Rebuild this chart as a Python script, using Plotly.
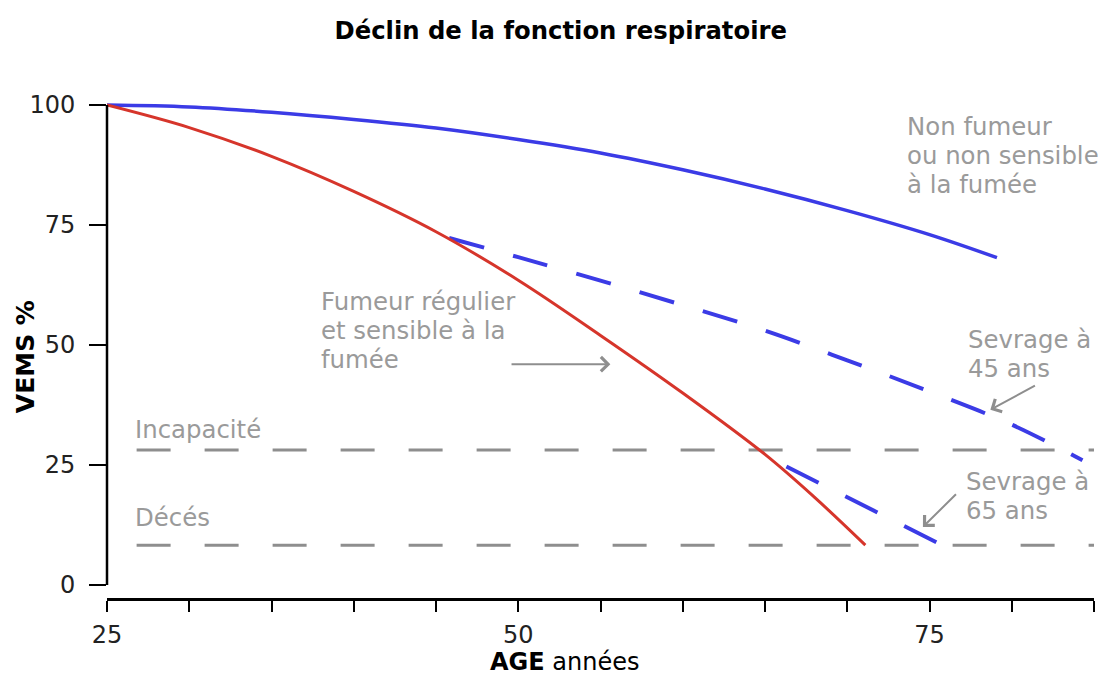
import plotly.graph_objects as go

# ---- data ----
age_nonsmoker = [25, 30, 35, 40, 45, 50, 55, 60, 65, 70, 75, 79.1]
vems_nonsmoker = [100, 99.6, 98.5, 97.0, 95.2, 92.8, 90.0, 86.5, 82.5, 78.0, 73.0, 68.2]

age_smoker = [25, 30, 35, 40, 45, 50, 55, 60, 65, 68, 71.1]
vems_smoker = [100, 95.3, 89.3, 82.0, 73.6, 63.5, 52.0, 40.0, 27.2, 18.3, 8.3]

age_quit45 = [45.8, 50, 55, 60, 65, 70, 75, 80, 84.3]
vems_quit45 = [72.3, 68.3, 63.4, 58.3, 53.0, 46.8, 40.3, 33.4, 26.0]

age_quit65 = [66.3, 76.0]
vems_quit65 = [24.7, 7.9]

threshold_age = [26.8, 85]
incapacite_level = 28.1
deces_level = 8.3

x_ticks = [25, 30, 35, 40, 45, 50, 55, 60, 65, 70, 75, 80, 85]
x_ticktext = ["25", "", "", "", "", "50", "", "", "", "", "75", "", ""]
y_ticks = [0, 25, 50, 75, 100]

BLUE = "#3b3be6"
RED = "#d6352b"
GRAY_LINE = "#8e8e8e"
GRAY_TEXT = "#9a9a9a"
FONT = "DejaVu Sans"

fig = go.Figure()

fig.add_trace(go.Scatter(x=threshold_age, y=[incapacite_level] * 2, mode="lines",
                         line=dict(color=GRAY_LINE, width=3, dash="34px,34px"),
                         hoverinfo="skip"))
fig.add_trace(go.Scatter(x=threshold_age, y=[deces_level] * 2, mode="lines",
                         line=dict(color=GRAY_LINE, width=3, dash="34px,34px"),
                         hoverinfo="skip"))
fig.add_trace(go.Scatter(x=age_nonsmoker, y=vems_nonsmoker, mode="lines",
                         line=dict(color=BLUE, width=3.5, shape="spline")))
fig.add_trace(go.Scatter(x=age_quit45, y=vems_quit45, mode="lines",
                         line=dict(color=BLUE, width=4, shape="spline", dash="36px,30px")))
fig.add_trace(go.Scatter(x=age_quit65, y=vems_quit65, mode="lines",
                         line=dict(color=BLUE, width=4, dash="36px,30px")))
fig.add_trace(go.Scatter(x=age_smoker, y=vems_smoker, mode="lines",
                         line=dict(color=RED, width=3, shape="spline")))

# y axis line from 0 to 100
fig.add_shape(type="line", xref="paper", yref="y", x0=0, x1=0, y0=0, y1=100,
              line=dict(color="black", width=2.5))

LABEL_SIZE = 24.4
LINE_GAP = 29
txt = dict(color=GRAY_TEXT, size=LABEL_SIZE, family=FONT)
labels = [
    (73.5, 89.4, ["Non fumeur", "ou non sensible", "à la fumée"]),
    (37.9, 53.1, ["Fumeur régulier", "et sensible à la", "fumée"]),
    (77.2, 48.1, ["Sevrage à", "45 ans"]),
    (77.1, 18.5, ["Sevrage à", "65 ans"]),
    (26.6, 32.3, ["Incapacité"]),
    (26.6, 14.0, ["Décés"]),
]
for x, y, lines in labels:
    n = len(lines)
    for i, t in enumerate(lines):
        fig.add_annotation(x=x, y=y, text=t, showarrow=False, xanchor="left",
                           yanchor="middle", align="left", font=txt,
                           yshift=-(i - (n - 1) / 2) * LINE_GAP)

arrows = [  # (tip_x, tip_y, tail_x, tail_y)
    (55.6, 46.0, 49.5, 46.0),
    (78.7, 36.5, 81.5, 41.7),
    (74.6, 12.1, 76.7, 19.2),
]
for x, y, ax, ay in arrows:
    fig.add_annotation(x=x, y=y, ax=ax, ay=ay, axref="x", ayref="y", text="",
                       showarrow=True, arrowhead=4, arrowsize=1.4, arrowwidth=2,
                       arrowcolor=GRAY_LINE)

# axis titles
fig.add_annotation(xref="paper", yref="paper", x=-0.083, y=0.466, text="<b>VEMS %</b>",
                   textangle=-90, showarrow=False, xanchor="center", yanchor="middle",
                   font=dict(size=25, color="black", family=FONT))
fig.add_annotation(xref="paper", yref="paper", x=0.464, y=-0.124,
                   text="<b>AGE</b> années", showarrow=False, xanchor="center",
                   yanchor="middle", font=dict(size=24, color="black", family=FONT))

fig.update_layout(
    width=1106, height=677,
    margin=dict(l=107, r=12, t=81, b=79),
    paper_bgcolor="white", plot_bgcolor="white",
    showlegend=False,
    font=dict(family=FONT, size=24, color="#222"),
    title=dict(text="<b>Déclin de la fonction respiratoire</b>", x=0.507, y=1 - 30 / 677,
               xanchor="center", yanchor="middle",
               font=dict(size=24.3, color="black", family=FONT)),
    xaxis=dict(range=[25, 85], tickvals=x_ticks, ticktext=x_ticktext,
               showgrid=False, zeroline=False, showline=True, linecolor="black",
               linewidth=3, ticks="outside", ticklen=11, tickwidth=2,
               tickcolor="black", tickfont=dict(size=24, color="#222"),
               ticklabelstandoff=2),
    yaxis=dict(range=[-2.71, 105], tickvals=y_ticks, showgrid=False, zeroline=False,
               showline=False, ticks="outside", ticklen=17, tickwidth=2,
               tickcolor="black", tickfont=dict(size=24, color="#222"),
               ticklabelstandoff=9),
)

fig.write_html("out.html", config={"displayModeBar": False},
               post_script="document.body.style.margin='0';")
